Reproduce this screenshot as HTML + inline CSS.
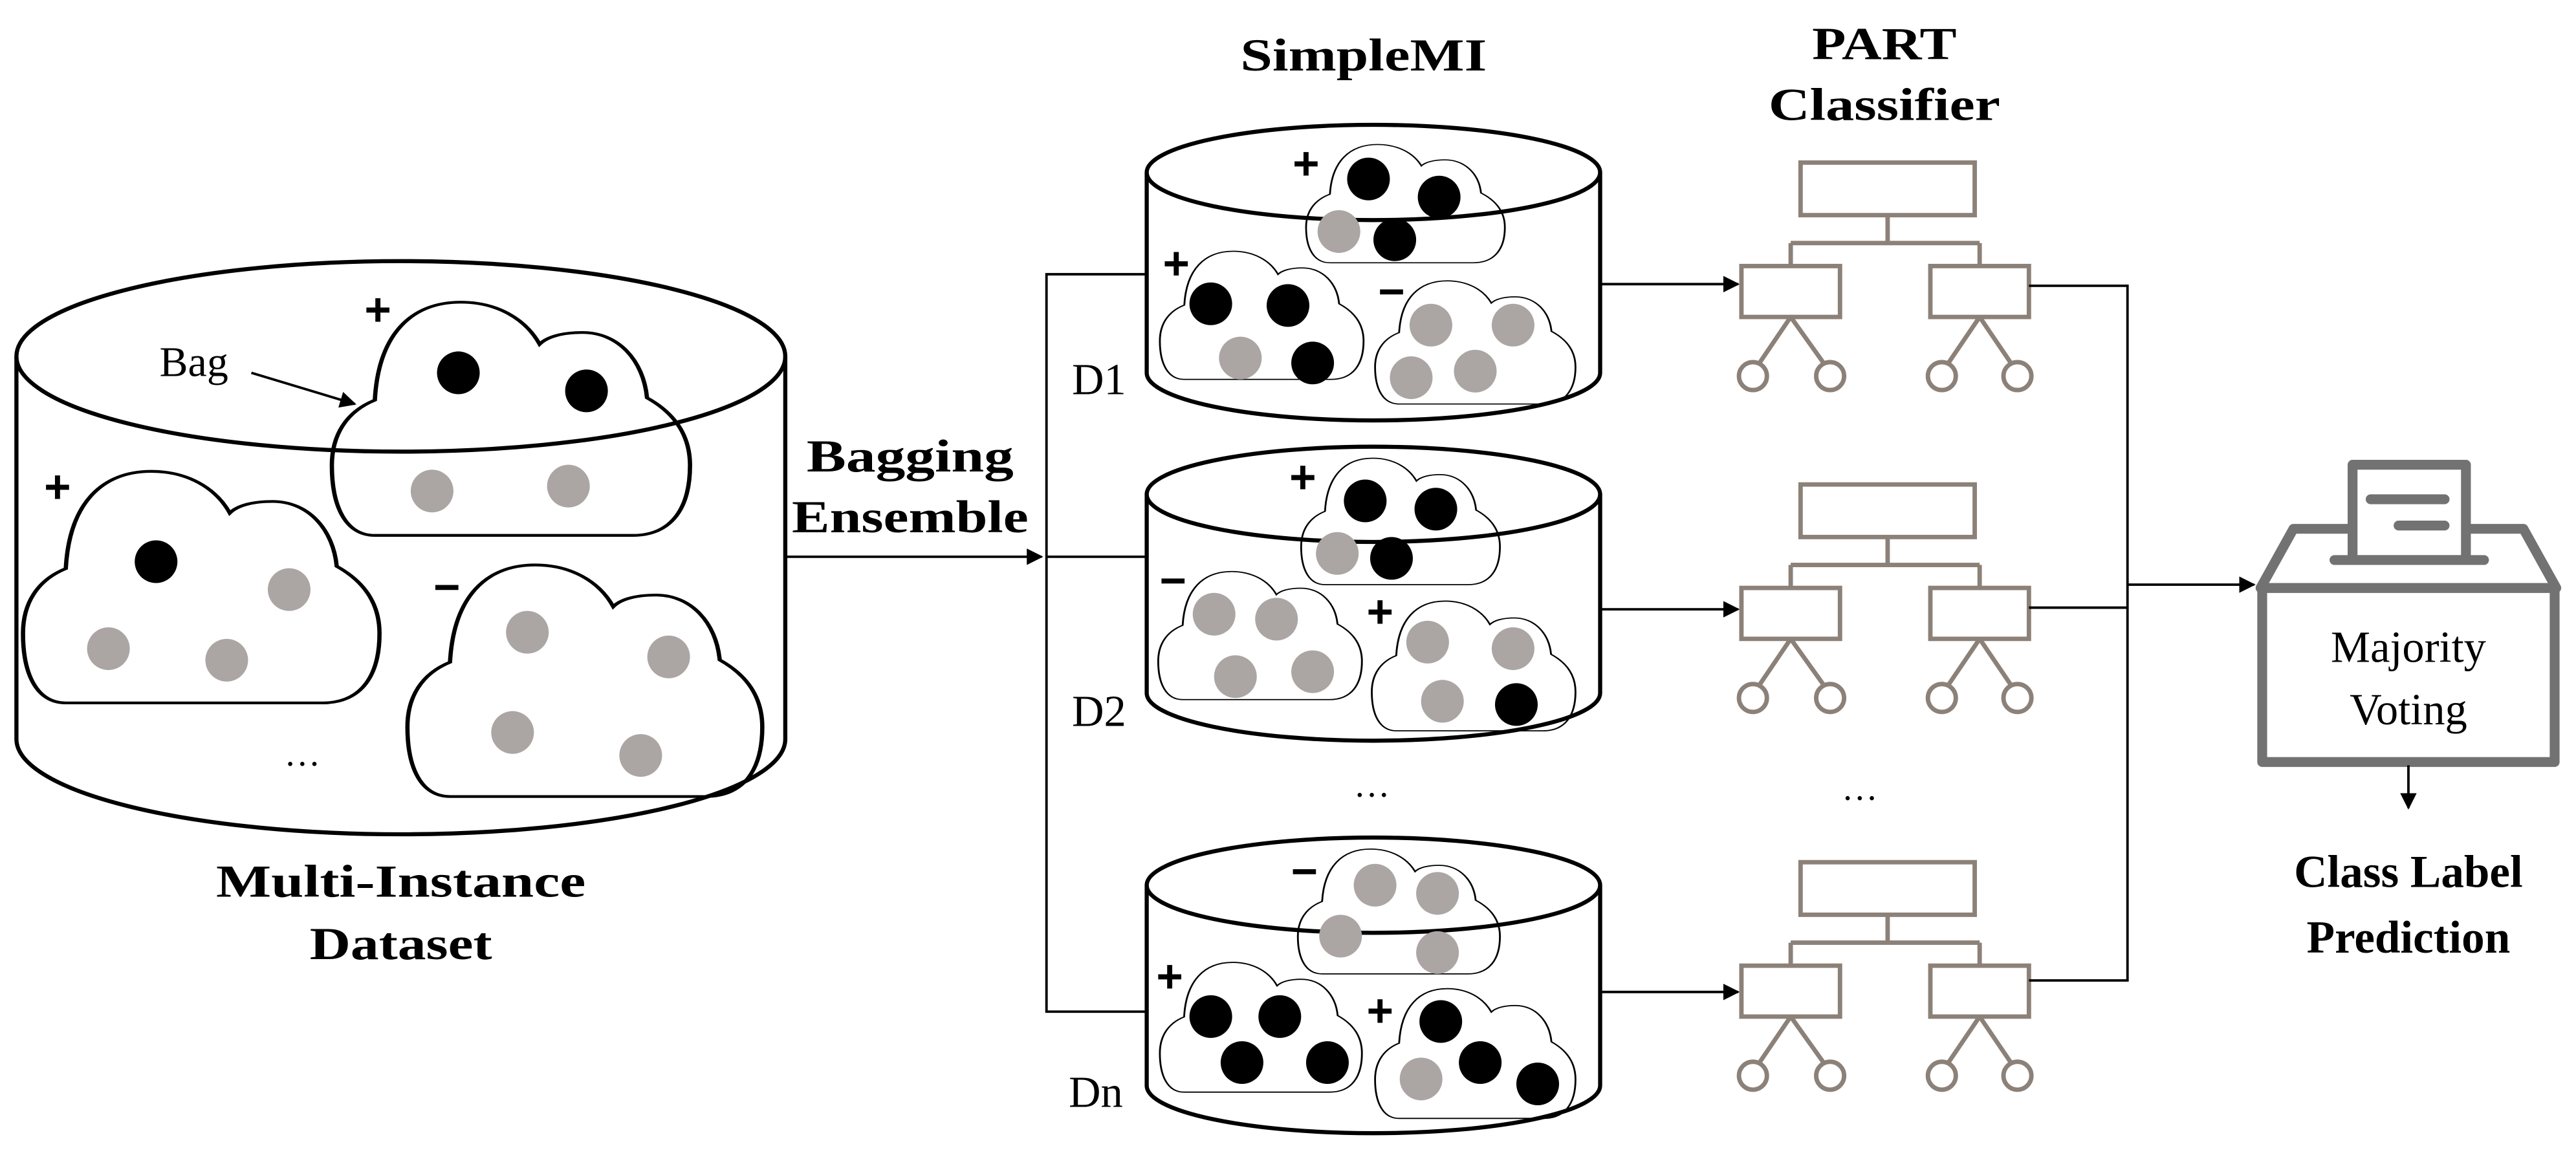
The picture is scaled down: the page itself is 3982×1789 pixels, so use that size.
<!DOCTYPE html>
<html><head><meta charset="utf-8"><style>
html,body{margin:0;padding:0;background:#fff;}
svg{display:block;}
text{font-family:"Liberation Serif",serif;}
.b{font-weight:bold;font-size:28px;}
.s{font-family:"Liberation Sans",sans-serif;font-weight:bold;font-size:28px;}
</style></head><body>
<svg width="3982" height="1789" viewBox="0 0 1568 704.5" preserveAspectRatio="none" xmlns="http://www.w3.org/2000/svg">
<defs>
<path id="cl" d="M12,100 L84,100 C95,100 100,88 100,70 C100,56 95,47 88,41 C87,25 80,13 70,13 C64,13 60,15 58,18 C54,7 46,0 36,0 C22,0 13,14 12,42 C4,47 0,57 0,70 C0,88 4,100 12,100 Z"/>
<marker id="ah" markerWidth="10" markerHeight="10" refX="9" refY="5" orient="auto" markerUnits="userSpaceOnUse"><path d="M0,0 L10,5 L0,10 Z" fill="#000"/></marker>
<g id="tree" fill="none" stroke="#8c8178" stroke-width="2.7">
<rect x="1096" y="99" width="106" height="32"/>
<path d="M1149,131 V148 M1090,148 H1205 M1090,148 V162 M1205,148 V162"/>
<rect x="1060" y="162" width="60" height="31"/>
<rect x="1175" y="162" width="60" height="31"/>
<path d="M1090,193 L1071,221 M1090,193 L1110,221 M1205,193 L1186,221 M1205,193 L1224,221"/>
<circle cx="1067" cy="229" r="8.5"/><circle cx="1114" cy="229" r="8.5"/>
<circle cx="1182" cy="229" r="8.5"/><circle cx="1228" cy="229" r="8.5"/>
</g>
</defs>

<!-- Big cylinder -->
<g fill="none" stroke="#000" stroke-width="2.5">
<ellipse cx="244" cy="217" rx="234" ry="58"/>
<path d="M10,217 V450 A234,58 0 0 0 478,450 V217"/>
</g>
<g fill="none" stroke="#000" stroke-width="1.2">
<use href="#cl" transform="translate(202,184) scale(2.18,1.42)"/>
<use href="#cl" transform="translate(14,287) scale(2.17,1.41)"/>
<use href="#cl" transform="translate(248,344) scale(2.16,1.41)"/>
</g>
<g fill="#000">
<circle cx="279" cy="227" r="13"/><circle cx="357" cy="238" r="13"/>
<circle cx="95" cy="342" r="13"/>
</g>
<g fill="#aba6a4">
<circle cx="263" cy="299" r="13"/><circle cx="346" cy="296" r="13"/>
<circle cx="66" cy="395" r="13"/><circle cx="138" cy="402" r="13"/><circle cx="176" cy="359" r="13"/>
<circle cx="321" cy="385" r="13"/><circle cx="407" cy="400" r="13"/><circle cx="312" cy="446" r="13"/><circle cx="390" cy="460" r="13"/>
</g>
<text class="s" x="230" y="198" text-anchor="middle">+</text>
<text class="s" x="35" y="306" text-anchor="middle">+</text>
<text class="s" x="272" y="367" text-anchor="middle">−</text>
<text x="118" y="229" font-size="26" text-anchor="middle">Bag</text>
<line x1="153" y1="227" x2="216" y2="246" stroke="#000" stroke-width="1.5" marker-end="url(#ah)"/>
<text x="184" y="466" font-size="22" text-anchor="middle">…</text>
<text class="b" x="244" y="546" text-anchor="middle" textLength="225" lengthAdjust="spacingAndGlyphs">Multi-Instance</text>
<text class="b" x="244" y="584" text-anchor="middle" textLength="111" lengthAdjust="spacingAndGlyphs">Dataset</text>

<!-- Bagging arrow -->
<line x1="478" y1="339" x2="634" y2="339" stroke="#000" stroke-width="1.5" marker-end="url(#ah)"/>
<text class="b" x="554" y="287" text-anchor="middle" textLength="126" lengthAdjust="spacingAndGlyphs">Bagging</text>
<text class="b" x="554" y="324" text-anchor="middle" textLength="144" lengthAdjust="spacingAndGlyphs">Ensemble</text>
<g stroke="#000" stroke-width="1.5" fill="none">
<path d="M698,167 H637 V616 H698 M637,339 H698"/>
</g>
<text class="b" x="830" y="43" text-anchor="middle" textLength="150" lengthAdjust="spacingAndGlyphs">SimpleMI</text>
<text class="b" x="1147" y="36" text-anchor="middle" textLength="88" lengthAdjust="spacingAndGlyphs">PART</text>
<text class="b" x="1147" y="73" text-anchor="middle" textLength="141" lengthAdjust="spacingAndGlyphs">Classifier</text>

<!-- small cylinders -->
<g fill="none" stroke="#000" stroke-width="2.5">
<ellipse cx="836" cy="105" rx="138" ry="29"/>
<path d="M698,105 V227 A138,29 0 0 0 974,227 V105"/>
<ellipse cx="836" cy="301" rx="138" ry="29"/>
<path d="M698,301 V422 A138,29 0 0 0 974,422 V301"/>
<ellipse cx="836" cy="539" rx="138" ry="29"/>
<path d="M698,539 V661 A138,29 0 0 0 974,661 V539"/>
</g>
<g fill="none" stroke="#000" stroke-width="0.9">
<use href="#cl" transform="translate(795,88) scale(1.21,0.72)"/>
<use href="#cl" transform="translate(706,153) scale(1.24,0.78)"/>
<use href="#cl" transform="translate(837,171) scale(1.22,0.75)"/>
<use href="#cl" transform="translate(792,279) scale(1.21,0.77)"/>
<use href="#cl" transform="translate(705,348) scale(1.24,0.78)"/>
<use href="#cl" transform="translate(835,366) scale(1.24,0.79)"/>
<use href="#cl" transform="translate(790,517) scale(1.23,0.76)"/>
<use href="#cl" transform="translate(706,586) scale(1.23,0.79)"/>
<use href="#cl" transform="translate(837,602) scale(1.22,0.79)"/>
</g>
<g fill="#000">
<circle cx="833" cy="109" r="13"/><circle cx="876" cy="120" r="13"/><circle cx="849" cy="146" r="13"/>
<circle cx="737" cy="185" r="13"/><circle cx="784" cy="186" r="13"/><circle cx="799" cy="221" r="13"/>
<circle cx="831" cy="305" r="13"/><circle cx="874" cy="310" r="13"/><circle cx="847" cy="340" r="13"/>
<circle cx="923" cy="429" r="13"/>
<circle cx="737" cy="619" r="13"/><circle cx="779" cy="619" r="13"/><circle cx="756" cy="647" r="13"/><circle cx="808" cy="647" r="13"/>
<circle cx="877" cy="622" r="13"/><circle cx="901" cy="647" r="13"/><circle cx="936" cy="660" r="13"/>
</g>
<g fill="#aba6a4">
<circle cx="815" cy="141" r="13"/>
<circle cx="755" cy="218" r="13"/>
<circle cx="871" cy="198" r="13"/><circle cx="921" cy="198" r="13"/><circle cx="859" cy="230" r="13"/><circle cx="898" cy="226" r="13"/>
<circle cx="814" cy="337" r="13"/>
<circle cx="739" cy="374" r="13"/><circle cx="777" cy="377" r="13"/><circle cx="752" cy="412" r="13"/><circle cx="799" cy="409" r="13"/>
<circle cx="869" cy="391" r="13"/><circle cx="921" cy="395" r="13"/><circle cx="878" cy="427" r="13"/>
<circle cx="837" cy="539" r="13"/><circle cx="875" cy="544" r="13"/><circle cx="816" cy="570" r="13"/><circle cx="875" cy="580" r="13"/>
<circle cx="865" cy="657" r="13"/>
</g>
<text class="s" x="795" y="109" text-anchor="middle">+</text>
<text class="s" x="716" y="170" text-anchor="middle">+</text>
<text class="s" x="847" y="187" text-anchor="middle">−</text>
<text class="s" x="793" y="300" text-anchor="middle">+</text>
<text class="s" x="714" y="363" text-anchor="middle">−</text>
<text class="s" x="840" y="382" text-anchor="middle">+</text>
<text class="s" x="794" y="540" text-anchor="middle">−</text>
<text class="s" x="712" y="604" text-anchor="middle">+</text>
<text class="s" x="840" y="625" text-anchor="middle">+</text>
<text x="669" y="240" font-size="27" text-anchor="middle">D1</text>
<text x="669" y="442" font-size="27" text-anchor="middle">D2</text>
<text x="667" y="674" font-size="27" text-anchor="middle">Dn</text>
<text x="835" y="485" font-size="22" text-anchor="middle">…</text>
<text x="1132" y="487" font-size="22" text-anchor="middle">…</text>

<!-- arrows to trees -->
<g stroke="#000" stroke-width="1.5" marker-end="url(#ah)">
<line x1="974" y1="173" x2="1058" y2="173"/>
<line x1="974" y1="371" x2="1058" y2="371"/>
<line x1="974" y1="604" x2="1058" y2="604"/>
</g>
<use href="#tree"/>
<use href="#tree" transform="translate(0,196)"/>
<use href="#tree" transform="translate(0,426)"/>
<g stroke="#000" stroke-width="1.5" fill="none">
<path d="M1235,174 H1295 V597 H1235 M1235,370 H1295"/>
</g>
<line x1="1295" y1="356" x2="1372" y2="356" stroke="#000" stroke-width="1.5" marker-end="url(#ah)"/>

<!-- ballot box -->
<g fill="none" stroke="#727272" stroke-width="6" stroke-linejoin="round" stroke-linecap="round">
<path d="M1430,322 H1396 L1376,358 H1556 L1536,322 H1502"/>
<rect x="1377" y="358" width="178" height="106"/>
<rect x="1432" y="283" width="69" height="58" fill="#fff"/>
<path d="M1421,341 H1512"/>
<path d="M1443,304 H1488 M1460,320 H1488"/>
</g>
<text x="1466" y="403" font-size="27" text-anchor="middle">Majority</text>
<text x="1466" y="441" font-size="27" text-anchor="middle">Voting</text>
<line x1="1466" y1="466" x2="1466" y2="492" stroke="#000" stroke-width="1.5" marker-end="url(#ah)"/>
<text class="b" x="1466" y="540" text-anchor="middle">Class Label</text>
<text class="b" x="1466" y="580" text-anchor="middle">Prediction</text>
</svg>
</body></html>
